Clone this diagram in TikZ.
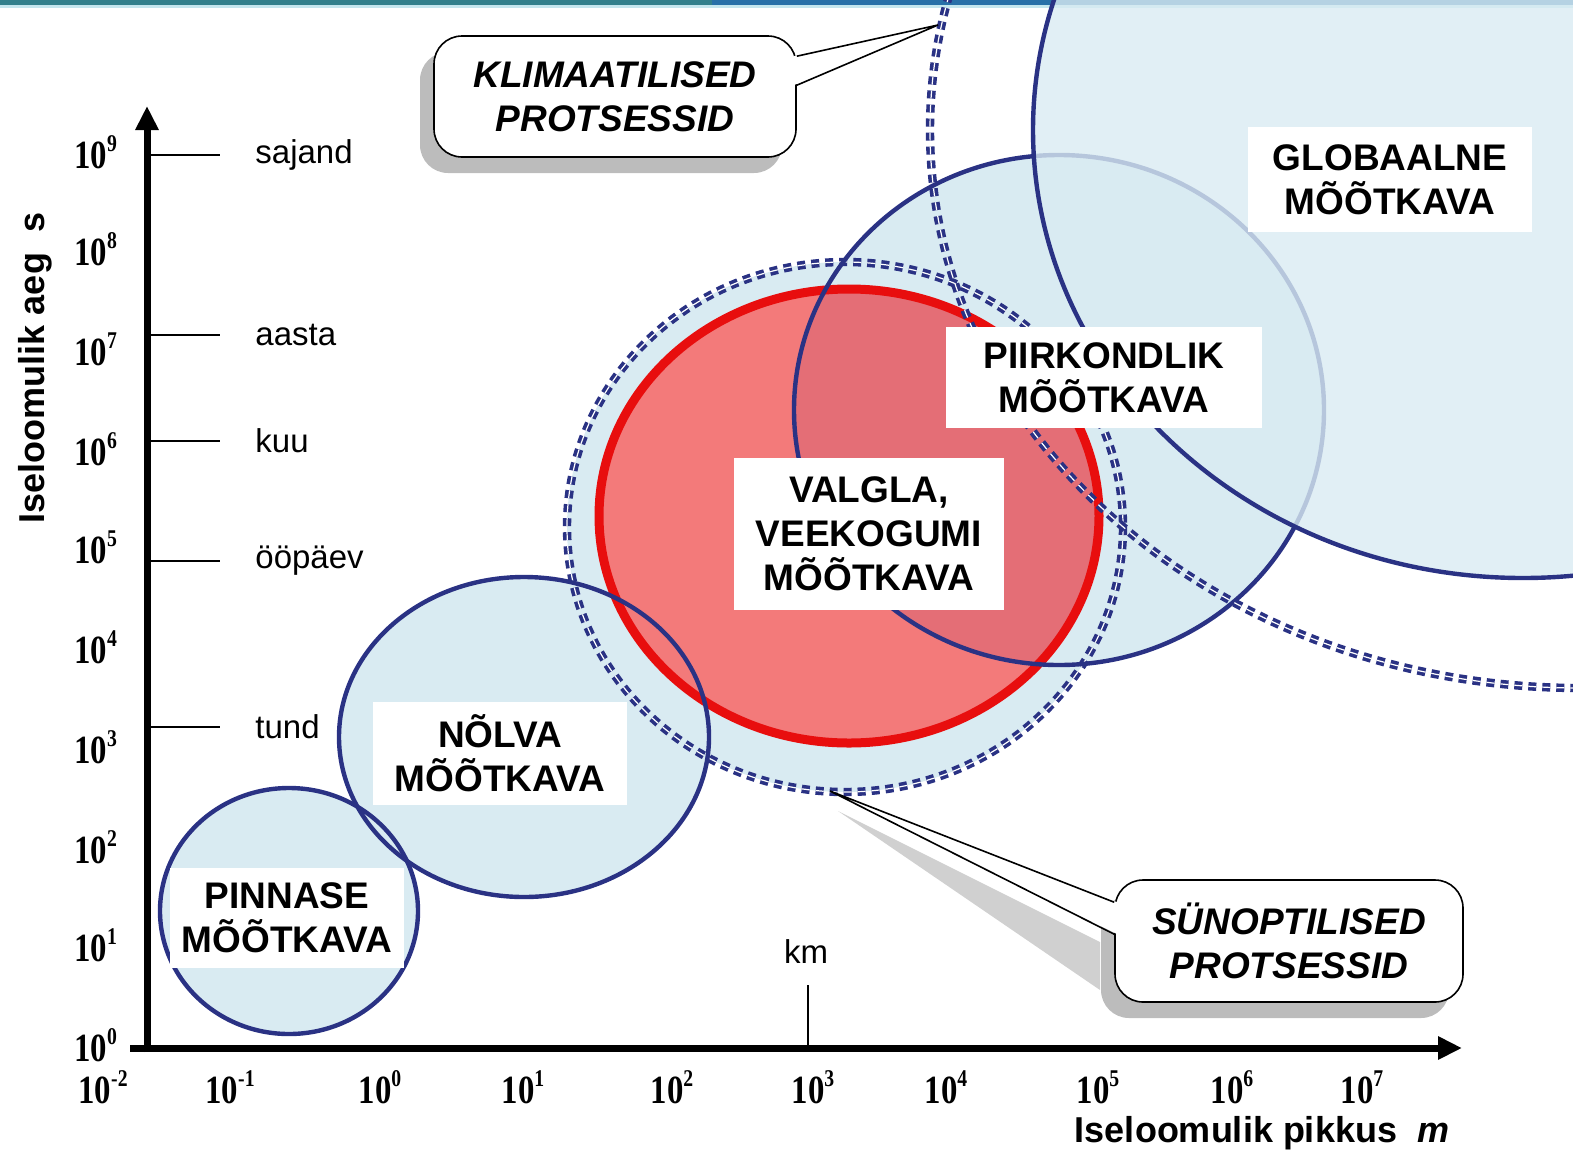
\documentclass[tikz,border=0pt]{standalone}
\usepackage{fontspec}
\setmainfont{Liberation Serif}
\setsansfont{Liberation Sans}
\usetikzlibrary{positioning,arrows.meta,calc,shadows}
\definecolor{ink}{RGB}{0,0,0}
\definecolor{navy}{RGB}{42,50,132}
\definecolor{paleblue}{RGB}{217,235,242}
\definecolor{redline}{RGB}{232,14,14}
\definecolor{redfill}{RGB}{243,122,122}
\definecolor{redmix}{RGB}{228,110,118}
\definecolor{shade}{RGB}{188,188,188}
\definecolor{barteal}{RGB}{50,128,140}
\definecolor{barblue}{RGB}{40,112,168}
\definecolor{barline}{RGB}{196,230,238}
\newcommand{\tenpow}[1]{\scalebox{0.82}[1]{10\raisebox{8.5pt}{\fontsize{12}{12}\selectfont#1}}}
\tikzset{
  scl/.style={draw=navy, line width=2.2pt},
  ring/.style={draw=navy, line width=1.8pt, double=white, double distance=0.6pt,
    dash pattern=on 4pt off 3pt},
  lbl/.style={fill=white, align=center, inner sep=0pt, text=ink,
    font=\sffamily\bfseries\fontsize{18.5}{22}\selectfont},
  callout/.style={draw=ink, fill=white, rounded corners=14pt, line width=0.8pt,
    align=center, inner sep=0pt, text=ink,
    font=\sffamily\bfseries\itshape\fontsize{18.5}{22}\selectfont,
    drop shadow={shadow xshift=-7pt, shadow yshift=-8pt, fill=shade, opacity=1}},
  pointer/.style={draw=ink, line width=0.8pt},
  ax/.style={line width=3.5pt, -{Triangle[length=12pt,width=11pt]}},
  tk/.style={line width=0.8pt},
  num/.style={font=\rmfamily\bfseries\fontsize{20}{20}\selectfont, inner sep=0pt},
  unit/.style={font=\sffamily\fontsize{16.5}{16.5}\selectfont, inner sep=0pt},
  ttl/.style={font=\sffamily\bfseries\fontsize{18}{18}\selectfont, inner sep=0pt},
}

\begin{document}
\begin{tikzpicture}[x=0.5pt,y=-0.5pt]
  \useasboundingbox (0,0) rectangle (1573,1157);
  \begin{scope}
    \clip (0,0) rectangle (1573,1157);
    \fill[barteal] (0,0) rectangle (712,5);
    \fill[barblue] (712,0) rectangle (1573,5);
    \fill[barline] (0,5) rectangle (1573,8);
    % scale ellipses
    \fill[paleblue] (845,527) ellipse [x radius=278, y radius=265];
    \fill[paleblue] (1059,410) ellipse [x radius=265, y radius=255];
    \fill[paleblue] (289,911) ellipse [x radius=129, y radius=123];
    \fill[paleblue] (524,737) ellipse [x radius=185, y radius=160];
    \draw[scl] (289,911) ellipse [x radius=129, y radius=123];
    \draw[ring] (845,527) ellipse [x radius=278, y radius=265];
    \fill[redfill] (849,516) ellipse [x radius=250, y radius=227];
    \begin{scope}
      \clip (849,516) ellipse [x radius=250, y radius=227];
      \fill[redmix] (1059,410) ellipse [x radius=265, y radius=255];
    \end{scope}
    \draw[redline, line width=4.5pt] (849,516) ellipse [x radius=250, y radius=227];
    \draw[scl] (524,737) ellipse [x radius=185, y radius=160];
    \draw[scl] (1059,410) ellipse [x radius=265, y radius=255];
    \draw[ring] (1580,130) ellipse [x radius=650, y radius=558];
    \fill[paleblue, fill opacity=0.8] (1523,130) ellipse [x radius=490, y radius=448];
    \draw[scl] (1523,130) ellipse [x radius=490, y radius=448];
  \end{scope}

  % labels
  \node[lbl, minimum width=142pt, minimum height=52.5pt] (glob) at (1390,179.5) {GLOBAALNE\\MÕÕTKAVA};
  \node[lbl, minimum width=158pt, minimum height=50.5pt] (piir) at (1104,377.5) {PIIRKONDLIK\\MÕÕTKAVA};
  \node[lbl, minimum width=135pt, minimum height=76pt] (valg) at (869,534) {VALGLA,\\VEEKOGUMI\\MÕÕTKAVA};
  \node[lbl, minimum width=127pt, minimum height=51.5pt] (nolv) at (500,753.5) {NÕLVA\\MÕÕTKAVA};
  \node[lbl, minimum width=117pt, minimum height=50pt] (pinn) at (287,918) {PINNASE\\MÕÕTKAVA};

  % axes
  \draw[ax] (147,1052) -- (147,106);
  \draw[ax] (130,1048) -- (1462,1048);
  \foreach \y/\t [count=\i] in {155/sajand,335/aasta,441/kuu,561/ööpäev,727/tund} {
    \draw[tk] (147,\y) -- (220,\y);
    \node[unit, anchor=west] (unit\i) at (255,\y) {\t};
  }
  \foreach \e/\y in {9/155,8/252,7/352,6/452,5/550,4/650,3/750,2/850,1/948,0/1048}
    \node[num, anchor=base west] (ylab\e) at (74,\y+13) {\tenpow{\e}};
  \foreach \e/\x [count=\i] in {-2/103,-1/230,0/380,1/523,2/672,3/813,4/946,5/1098,6/1232,7/1362}
    \node[num, anchor=base] (xlab\i) at (\x,1103) {\tenpow{\e}};
  \node[unit] (km) at (806,952) {km};
  \draw[tk] (808,985) -- (808,1048);
  \node[ttl, rotate=90] (ytitle) at (35,368) {Iseloomulik aeg \ s};
  \node[ttl] (xtitle) at (1262,1133) {Iseloomulik pikkus \ \textit{m}};

  % callouts
  \coordinate (klimtip) at (938,25);
  \node[callout, minimum width=181pt, minimum height=60.5pt] (klim) at (615,96.5) {KLIMAATILISED\\PROTSESSID};
  \fill[white] ($(klim.north east)+(-3,21)$) -- (klimtip) -- ($(klim.north east)+(-3,50)$) -- cycle;
  \draw[pointer] ($(klim.north east)+(0,21)$) -- (klimtip) -- ($(klim.north east)+(0,50)$);

  \coordinate (syntip) at (830,791);
  \fill[shade!70] ($(syntip)+(8,20)$) -- (1100,942) -- (1100,990) -- cycle;
  \node[callout, minimum width=174pt, minimum height=61pt] (syn) at (1289,941) {SÜNOPTILISED\\PROTSESSID};
  \fill[white] ($(syn.north west)+(3,23)$) -- (syntip) -- ($(syn.north west)+(3,55)$) -- cycle;
  \draw[pointer] ($(syn.north west)+(0,23)$) -- (syntip) -- ($(syn.north west)+(0,55)$);
\end{tikzpicture}
\end{document}
